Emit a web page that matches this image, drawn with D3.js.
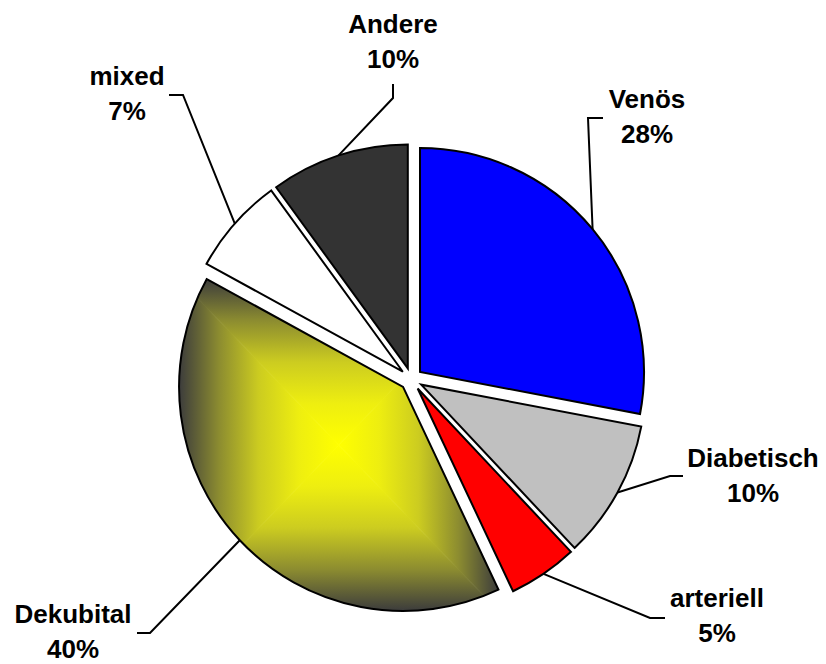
<!DOCTYPE html>
<html>
<head>
<meta charset="utf-8">
<script src="https://cdn.jsdelivr.net/npm/d3@7"></script>
<style>
  body { margin: 0; background: #fff; }
  svg { display: block; }
  .lbl { font-family: "Liberation Sans", Arial, sans-serif; font-weight: bold; font-size: 26px; fill: #000; }
</style>
</head>
<body>
<svg id="chart" width="826" height="664"></svg>
<script>
// Daten
const categories = ['Venös', 'Diabetisch', 'arteriell', 'Dekubital', 'mixed', 'Andere']
const shares = [28, 10, 5, 40, 7, 10]
const percentLabels = ['28%', '10%', '5%', '40%', '7%', '10%']
const sliceColors = ['#0000ff', '#c0c0c0', '#ff0000', 'url-gradient', '#ffffff', '#333333']

// Layout
const cx = 411.3
const cy = 379.2
const radius = 224
const explode = 11.3
const lineGap = 35

// Verlauf des Dekubital-Segments (Mitte -> Rand)
const gradStops = [
  [0, '#ffff00'], [0.25, '#eeee10'], [0.5, '#cccc20'], [0.75, '#8c8c30'], [1, '#3c3c3c']
]

// Beschriftung: Textmitte, Knick der Führungslinie, Ende
const labelLayout = {
  'Venös': { x: 647, y: 108, elbow: [588, 118], end: [603, 118] },
  'Diabetisch': { x: 753, y: 467, elbow: [670, 476], end: [683, 476] },
  'arteriell': { x: 717, y: 607, elbow: [650, 618], end: [665, 618] },
  'Dekubital': { x: 73, y: 623, elbow: [150, 633], end: [137, 633] },
  'mixed': { x: 127, y: 85, elbow: [183, 95], end: [169, 95] },
  'Andere': { x: 393, y: 33, elbow: [393, 98], end: [393, 84] }
}

const svg = d3.select('#chart')
const defs = svg.append('defs')
const root = svg.append('g').attr('transform', `translate(${cx},${cy})`)

const data = categories.map((c, i) => ({ name: c, value: shares[i], pct: percentLabels[i], color: sliceColors[i] }))

const pie = d3.pie().sort(null).value(d => d.value)
const arc = d3.arc().innerRadius(0).outerRadius(radius)
const arcs = pie(data)

function polar (a, r) {
  return [r * Math.sin(a), -r * Math.cos(a)]
}

// rechteckiger Verlauf ueber die Bounding-Box des Segments
function boxGradient (g, d, id) {
  const pts = [[0, 0], polar(d.startAngle, radius), polar(d.endAngle, radius)]
  for (let k = 0; k < 8; k++) {
    const a = k * Math.PI / 2
    if (a > d.startAngle && a < d.endAngle) pts.push(polar(a, radius))
  }
  const x0 = d3.min(pts, p => p[0])
  const x1 = d3.max(pts, p => p[0])
  const y0 = d3.min(pts, p => p[1])
  const y1 = d3.max(pts, p => p[1])
  const mx = (x0 + x1) / 2
  const my = (y0 + y1) / 2

  defs.append('clipPath').attr('id', id + '-clip')
    .append('path').attr('d', arc(d))

  const parts = [
    { tri: [[mx, my], [x0, y0], [x1, y0]], to: [mx, y0] },
    { tri: [[mx, my], [x1, y0], [x1, y1]], to: [x1, my] },
    { tri: [[mx, my], [x1, y1], [x0, y1]], to: [mx, y1] },
    { tri: [[mx, my], [x0, y1], [x0, y0]], to: [x0, my] }
  ]
  const cg = g.append('g').attr('clip-path', `url(#${id}-clip)`)
  parts.forEach((p, j) => {
    const gid = `${id}-lg${j}`
    const lg = defs.append('linearGradient').attr('id', gid)
      .attr('gradientUnits', 'userSpaceOnUse')
      .attr('x1', mx).attr('y1', my)
      .attr('x2', p.to[0]).attr('y2', p.to[1])
    gradStops.forEach(s => {
      lg.append('stop').attr('offset', s[0]).attr('stop-color', s[1])
    })
    const c = p.tri[0]
    const tri = p.tri.map((q, k) => k === 0 ? q : [q[0] + (q[0] - c[0]) * 0.02, q[1] + (q[1] - c[1]) * 0.02])
    cg.append('path')
      .attr('d', d3.line()(tri) + 'Z')
      .attr('fill', `url(#${gid})`)
      .attr('stroke', `url(#${gid})`)
      .attr('stroke-width', 0.8)
  })
}

const slices = root.selectAll('g.slice')
  .data(arcs)
  .join('g')
  .attr('class', 'slice')
  .attr('transform', d => {
    const p = polar((d.startAngle + d.endAngle) / 2, explode)
    return `translate(${p[0]},${p[1]})`
  })

slices.each(function (d, i) {
  const g = d3.select(this)
  const gradient = d.data.color === 'url-gradient'
  if (gradient) boxGradient(g, d, 'grad' + i)
  g.append('path').attr('d', arc(d))
    .attr('fill', gradient ? 'none' : d.data.color)
    .attr('stroke', '#000').attr('stroke-width', 2)
    .attr('stroke-linejoin', 'miter')
})

// Fuehrungslinien und Beschriftung
const labels = svg.append('g')
arcs.forEach(d => {
  const lay = labelLayout[d.data.name]
  const m = (d.startAngle + d.endAngle) / 2
  const off = polar(m, explode)
  const a = polar(m, radius)
  const anchor = [cx + off[0] + a[0], cy + off[1] + a[1]]
  labels.append('path')
    .attr('d', d3.line()([anchor, lay.elbow, lay.end]))
    .attr('fill', 'none')
    .attr('stroke', '#000')
    .attr('stroke-width', 2)

  const t = labels.append('text').attr('class', 'lbl')
    .attr('text-anchor', 'middle')
  t.append('tspan').attr('x', lay.x).attr('y', lay.y).text(d.data.name)
  t.append('tspan').attr('x', lay.x).attr('y', lay.y + lineGap).text(d.data.pct)
})
</script>
</body>
</html>
